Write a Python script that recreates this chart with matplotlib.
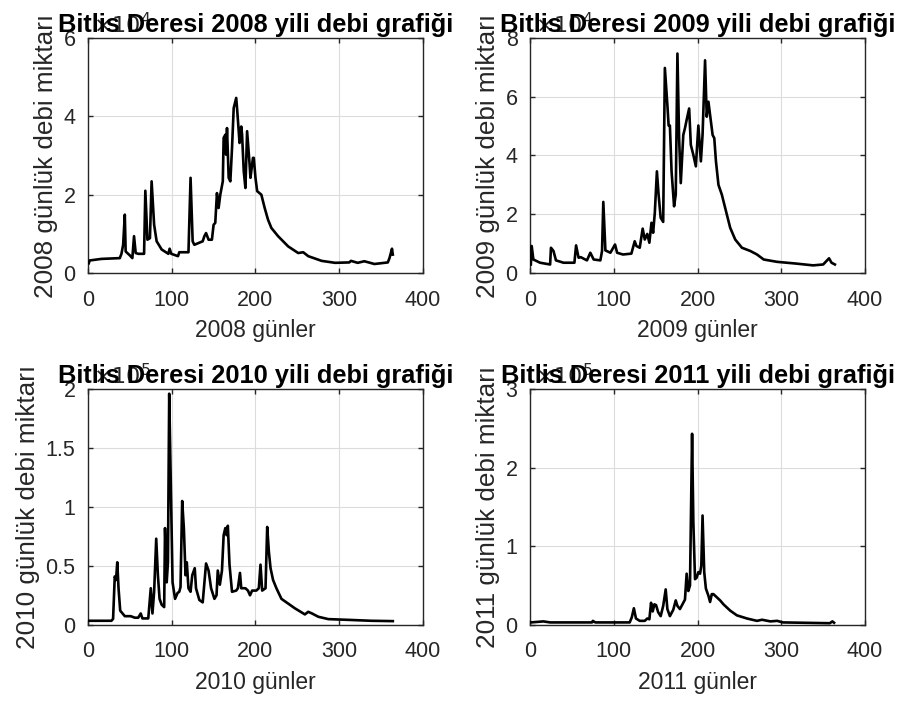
import matplotlib
matplotlib.use("Agg")
import matplotlib.pyplot as plt

plt.rcParams["font.family"] = ["Liberation Sans", "DejaVu Sans"]

# values, y in units of 10^exponent
days_2008 = [1, 2, 16, 38, 40, 42, 44, 45, 50, 53, 55, 57, 60, 67, 68.5, 71, 74, 76, 79, 82,
             88, 96, 97.5, 99.5, 107.5, 109, 120, 122.5, 125, 127, 137, 139, 141, 144, 148,
             150, 152, 154, 156, 158, 161, 162, 164, 165, 166, 168, 170, 172, 174, 177, 178,
             180, 181, 183, 184, 186, 188, 190, 193, 194, 197, 198, 200, 202, 207, 211, 215,
             219, 227, 239, 251, 257, 263, 279, 295, 312, 314, 322, 330, 342, 358, 360, 363, 364]
debi_2008 = [0.25, 0.32, 0.36, 0.38, 0.49, 0.72, 1.49, 0.55, 0.45, 0.38, 0.94, 0.51, 0.49,
             0.49, 2.10, 0.85, 0.89, 2.34, 1.23, 0.81, 0.60, 0.49, 0.62, 0.49, 0.43, 0.53,
             0.53, 2.43, 0.81, 0.72, 0.81, 0.94, 1.02, 0.85, 0.85, 1.23, 1.28, 2.04, 1.66,
             2.00, 2.34, 3.45, 3.53, 3.02, 3.70, 2.43, 2.34, 3.19, 4.21, 4.47, 4.21, 3.62,
             3.32, 3.74, 3.53, 2.60, 2.17, 3.62, 2.77, 2.43, 2.94, 2.94, 2.43, 2.09, 2.00,
             1.66, 1.36, 1.15, 0.94, 0.68, 0.51, 0.53, 0.43, 0.31, 0.26, 0.27, 0.31, 0.26,
             0.30, 0.23, 0.27, 0.38, 0.62, 0.47]

days_2009 = [1, 2, 4, 12, 24, 25, 28, 31, 40, 53, 55, 58, 60.5, 68, 72, 76, 84, 86, 87.5, 90,
             96, 101.5, 104, 111, 121, 125, 127, 131, 134.5, 137, 140, 142.5, 145, 147, 149,
             151.5, 153.5, 156, 159, 161, 164, 165.5, 167, 169, 172, 174, 176, 178, 180, 183,
             185, 187, 190, 192, 195, 198, 201, 204, 206, 209, 211, 213, 215, 218, 220, 222,
             225, 229, 235, 239, 245, 253, 263, 271, 279, 295, 318, 338, 350, 357, 360, 364]
debi_2009 = [0.29, 0.92, 0.46, 0.35, 0.29, 0.86, 0.75, 0.43, 0.35, 0.35, 0.94, 0.52, 0.54,
             0.43, 0.69, 0.46, 0.43, 0.75, 2.42, 0.77, 0.69, 0.97, 0.69, 0.63, 0.66, 1.08,
             0.92, 0.86, 1.51, 1.14, 1.33, 1.03, 1.71, 1.37, 2.05, 3.46, 2.67, 1.88, 1.74,
             6.98, 5.72, 5.02, 5.02, 3.46, 2.27, 2.67, 7.47, 4.59, 3.06, 4.70, 4.93, 5.21,
             5.60, 4.36, 4.02, 3.63, 5.02, 3.80, 4.70, 7.24, 5.32, 5.83, 5.38, 4.70, 4.59,
             3.80, 3.00, 2.67, 1.99, 1.54, 1.14, 0.86, 0.75, 0.63, 0.46, 0.38, 0.32, 0.26,
             0.29, 0.50, 0.35, 0.29]

days_2010 = [1, 28, 30, 32, 33.5, 35, 36.5, 38.5, 44, 51, 56, 60, 63, 65, 72, 75, 77, 79,
             81.5, 83.5, 85.5, 88, 91, 92, 94, 95.5, 97, 99, 101, 104, 107, 109, 110.5, 112.5,
             114.5, 116.5, 118, 120, 122.5, 124.5, 127.5, 129, 133, 137, 141, 144, 147, 151,
             153.5, 155, 157.5, 160, 162, 164, 165.5, 167, 169, 172, 177, 179, 181.5, 183,
             188, 191, 193.5, 196, 201, 204, 206, 208, 212, 214, 216, 218, 221, 225, 231,
             239, 247, 259, 263, 267.5, 275, 287, 310, 338, 364]
debi_2010 = [0.034, 0.034, 0.05, 0.41, 0.38, 0.53, 0.31, 0.12, 0.073, 0.073, 0.06, 0.06,
             0.096, 0.054, 0.054, 0.31, 0.096, 0.28, 0.73, 0.42, 0.22, 0.17, 0.15, 0.82,
             0.36, 0.53, 1.96, 1.16, 0.36, 0.22, 0.27, 0.28, 0.32, 1.05, 0.82, 0.42, 0.53,
             0.31, 0.28, 0.42, 0.48, 0.31, 0.21, 0.19, 0.52, 0.46, 0.31, 0.22, 0.25, 0.46,
             0.34, 0.46, 0.76, 0.82, 0.76, 0.84, 0.51, 0.28, 0.29, 0.31, 0.44, 0.31, 0.31,
             0.29, 0.25, 0.29, 0.29, 0.31, 0.51, 0.29, 0.31, 0.83, 0.62, 0.48, 0.38, 0.31,
             0.22, 0.18, 0.14, 0.088, 0.11, 0.096, 0.068, 0.048, 0.042, 0.034, 0.031]

days_2011 = [1, 16, 24, 74, 75, 78, 119, 121.5, 124, 126.5, 131, 137, 140, 142.5, 144.5,
             146.5, 148.5, 150.5, 153, 156, 159, 162, 164, 167, 171, 174, 176, 179, 182, 185,
             187, 189, 191, 193.5, 195, 197, 199, 201, 203, 204.5, 206, 208, 210, 213, 215,
             217, 219, 223, 227, 231, 235, 239, 247, 259, 271, 277, 287, 295, 302, 358, 361, 363]
debi_2011 = [0.03, 0.043, 0.03, 0.03, 0.05, 0.03, 0.03, 0.094, 0.21, 0.08, 0.05, 0.05, 0.08,
             0.07, 0.28, 0.17, 0.26, 0.25, 0.16, 0.11, 0.24, 0.45, 0.20, 0.11, 0.19, 0.31,
             0.24, 0.20, 0.26, 0.32, 0.65, 0.43, 0.50, 2.43, 1.31, 0.58, 0.60, 0.67, 0.65,
             0.75, 1.39, 0.67, 0.46, 0.37, 0.29, 0.39, 0.39, 0.35, 0.31, 0.26, 0.22, 0.18,
             0.12, 0.08, 0.05, 0.064, 0.043, 0.05, 0.03, 0.02, 0.043, 0.026]

years = ["2008", "2009", "2010", "2011"]
exponents = [4, 4, 5, 5]
y_limits = [6, 8, 2, 3]
y_ticks = [[0, 2, 4, 6], [0, 2, 4, 6, 8], [0, 0.5, 1, 1.5, 2], [0, 1, 2, 3]]
x_ticks = [0, 100, 200, 300, 400]

# axes boxes in figure fractions (left, bottom, width, height)
boxes = [
    [0.0973, 0.6111, 0.3706, 0.3348],
    [0.5863, 0.6111, 0.3706, 0.3348],
    [0.0973, 0.1100, 0.3706, 0.3359],
    [0.5863, 0.1100, 0.3706, 0.3359],
]

dark = "#262626"


def draw_panel(ax, days, debi, year, exp, ymax, yticks):
    ax.plot(days, debi, color="black", linewidth=1.9, zorder=3)
    ax.set_xlim(0, 400)
    ax.set_ylim(0, ymax)
    ax.set_xticks(x_ticks)
    ax.set_yticks(yticks)
    ax.set_yticklabels([f"{t:g}" for t in yticks])

    ax.grid(True, color="#dcdcdc", linewidth=0.8)
    ax.set_axisbelow(True)
    for sp in ax.spines.values():
        sp.set_color(dark)
        sp.set_linewidth(1.0)
    ax.tick_params(direction="in", top=True, right=True, length=3.5, width=1.0,
                   colors=dark, labelsize=15.5)
    ax.tick_params(axis="x", pad=12)
    ax.tick_params(axis="y", pad=9)

    # exponent like MATLAB, sits under the title
    ax.text(0.015, 1.02, r"$\times10^{%d}$" % exp, transform=ax.transAxes,
            fontsize=16, color=dark, ha="left", va="baseline", zorder=1)

    ax.set_title(f"Bitlis Deresi {year} yili debi grafiği", fontsize=18.3,
                 fontweight="bold", color="black", pad=4)
    ax.set_xlabel(f"{year} günler", fontsize=16.5, color=dark, labelpad=6)
    ax.set_ylabel(f"{year} günlük debi miktarı", fontsize=18.8, color=dark, labelpad=4)


fig = plt.figure(figsize=(9.04, 7.02), dpi=100)
all_days = [days_2008, days_2009, days_2010, days_2011]
all_debi = [debi_2008, debi_2009, debi_2010, debi_2011]

for i in range(4):
    ax = fig.add_axes(boxes[i])
    draw_panel(ax, all_days[i], all_debi[i], years[i], exponents[i],
               y_limits[i], y_ticks[i])

fig.savefig("out.png", dpi=100)
plt.close(fig)
